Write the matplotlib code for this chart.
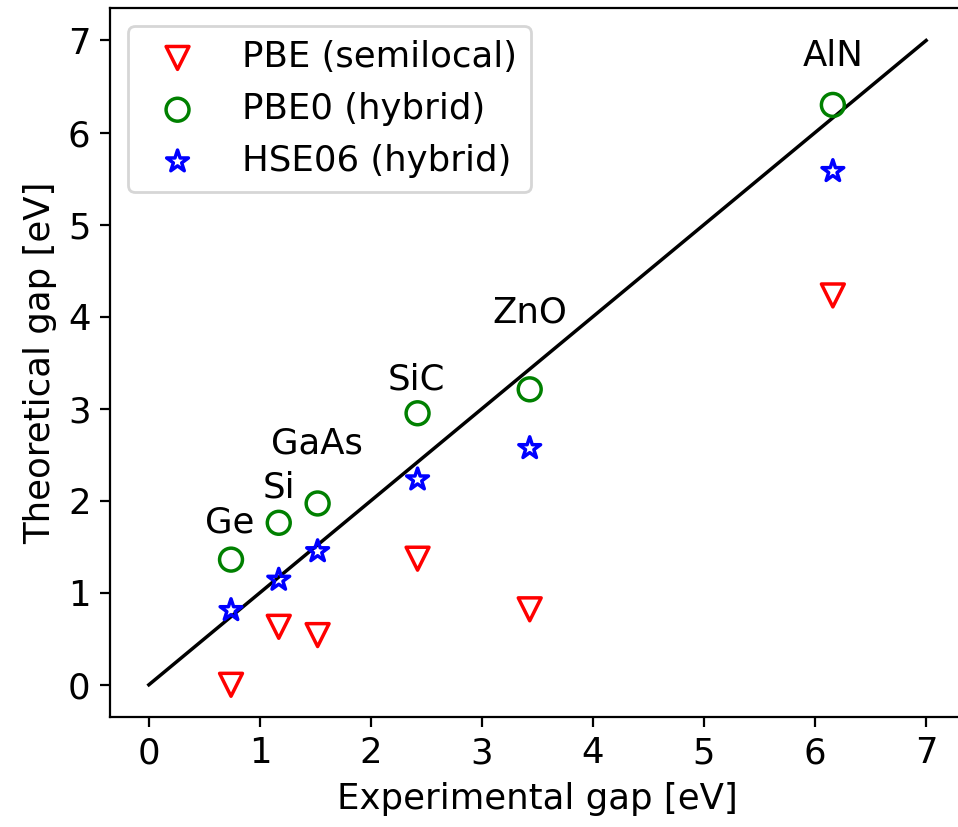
import numpy as np
import matplotlib
matplotlib.use('Agg')
import matplotlib.pyplot as plt

# band gaps (eV)
materials = ['Ge', 'Si', 'GaAs', 'SiC', 'ZnO', 'AlN']
exp_gap = [0.74, 1.17, 1.52, 2.42, 3.43, 6.16]
pbe = [0.00, 0.63, 0.54, 1.37, 0.82, 4.23]
pbe0 = [1.36, 1.76, 1.97, 2.95, 3.21, 6.30]
hse06 = [0.81, 1.14, 1.45, 2.23, 2.57, 5.58]
label_x = [0.73, 1.17, 1.51, 2.41, 3.43, 6.16]
label_y = [1.76, 2.14, 2.62, 3.32, 4.05, 6.83]

plt.rcParams['font.size'] = 12.8

fig = plt.figure(figsize=(4.79, 4.135), dpi=200)
ax = fig.add_axes([0.1148, 0.133, 0.8925, 0.857])

ax.scatter(exp_gap, pbe, marker='v', s=68, facecolors='none', edgecolors='red',
           linewidths=1.25, label='PBE (semilocal)', zorder=3)
ax.scatter(exp_gap, pbe0, marker='o', s=68, facecolors='none', edgecolors='green',
           linewidths=1.25, label='PBE0 (hybrid)', zorder=3)
ax.scatter(exp_gap, hse06, marker='*', s=68, facecolors='none', edgecolors='blue',
           linewidths=1.25, label='HSE06 (hybrid)', zorder=3)

ax.plot([0, 7], [0, 7], 'k-', lw=1.25)

for name, lx, ly in zip(materials, label_x, label_y):
    ax.text(lx, ly, name, ha='center', va='center')

ax.set_xlim(-0.35, 7.35)
ax.set_ylim(-0.35, 7.35)
ax.set_xticks(range(0, 8))
ax.set_yticks(range(0, 8))
ax.set_xlabel('Experimental gap [eV]')
ax.set_ylabel('Theoretical gap [eV]')
ax.legend(loc='upper left')

fig.savefig('out.png', dpi=200)
